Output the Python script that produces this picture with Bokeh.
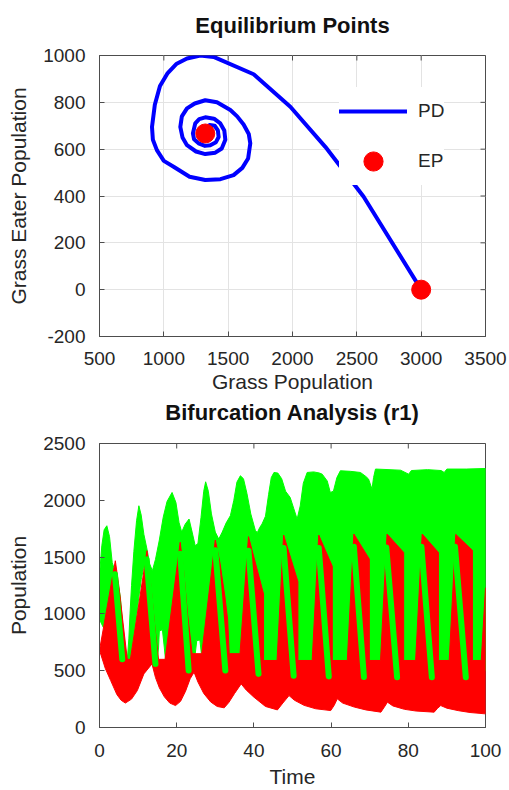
from bokeh.plotting import figure
from bokeh.models import Range1d, Legend, LegendItem, FixedTicker, LinearAxis
from bokeh.layouts import column
from bokeh.embed import file_html
from bokeh.resources import INLINE

# ---------------- data: phase diagram (top) ----------------
PD_GRASS = [3000, 2553, 2255, 1983, 1698, 1387, 1283, 1180, 1100, 1030, 970, 930, 908, 915,
            946, 1000, 1076, 1200, 1322, 1440, 1542, 1610, 1655, 1672, 1660, 1620, 1570, 1517,
            1413, 1322, 1240, 1180, 1140, 1128, 1145, 1180, 1250, 1322, 1400, 1450, 1478,
            1470, 1439, 1390, 1322, 1275, 1244, 1226, 1235, 1270, 1320, 1361, 1405, 1426,
            1420, 1395, 1355, 1322]
PD_EATER = [0, 397, 610, 781, 920, 994, 1000, 987, 965, 925, 870, 790, 695, 640,
            596, 550, 525, 482, 468, 472, 489, 520, 560, 625, 665, 705, 740, 767,
            800, 809, 795, 774, 740, 695, 650, 617, 590, 579, 585, 603, 640,
            680, 710, 730, 736, 728, 710, 667, 642, 625, 614, 617, 630, 652,
            680, 700, 703, 690]
EP_GRASS = [1322, 3000]
EP_EATER = [667, 0]
TOP_X_TICKS = [500, 1000, 1500, 2000, 2500, 3000, 3500]
TOP_Y_TICKS = [-200, 0, 200, 400, 600, 800, 1000]
TOP_Y_LABELS = {-200: "-200"}

# ---------------- data: bifurcation analysis (bottom) ----------------
# outline of the grass (green) band: upper edge and lower edge, (time, population)
GRASS_TOP = [(0, 1340), (0.6, 1600), (1.2, 1740), (1.9, 1776), (2.6, 1680), (3.3, 1450),
             (4.5, 1330), (5.4, 1150), (6.0, 900), (6.6, 700), (7.0, 640), (7.3, 640),
             (7.6, 780), (7.9, 1000), (8.3, 1250), (8.9, 1550), (9.6, 1820), (10.2, 1952),
             (10.8, 1870), (11.5, 1700), (12.3, 1570), (13.0, 1440), (13.7, 1380), (14.5, 1480),
             (15.5, 1650), (16.5, 1850), (17.5, 1990), (18.8, 2069), (19.8, 1980), (20.6, 1805),
             (21.3, 1720), (22.2, 1790), (23.2, 1835), (24.0, 1720), (24.8, 1600), (25.5, 1620),
             (26.3, 1850), (27.0, 2080), (27.5, 2163), (28.2, 2080), (29.0, 1880), (30.0, 1720),
             (30.9, 1659), (31.8, 1720), (32.8, 1800), (33.9, 1864), (34.8, 2000), (35.6, 2160),
             (36.5, 2216), (37.3, 2190), (38.2, 2060), (39.2, 1880), (40.4, 1732), (40.9, 1717),
             (41.5, 1760), (42.1, 1791), (43.0, 1860), (43.8, 2050), (44.5, 2200), (45.2, 2245),
             (46.2, 2240), (47.2, 2190), (48.2, 2080), (49.4, 2025), (50.3, 1930), (51.2, 1835),
             (52.0, 1950), (52.8, 2150), (53.8, 2245), (55.5, 2250), (57.0, 2240), (57.7, 2230),
             (59.0, 2170), (59.8, 2069), (60.6, 2080), (61.5, 2200), (62.4, 2260), (65.0, 2255),
             (67.6, 2245), (69.0, 2210), (69.7, 2187), (70.6, 2099), (71.0, 2200), (71.5, 2275),
             (75.0, 2270), (78.0, 2265), (80.1, 2230), (80.8, 2262), (85.0, 2270), (88.5, 2262),
             (89.3, 2245), (90.0, 2275), (95.0, 2275), (100.0, 2280)]
GRASS_BOTTOM = [(0, 950), (1.0, 880), (2.0, 880), (3.0, 900), (4.0, 800), (5.0, 600),
                (6.0, 560), (7.5, 560), (8.0, 600), (8.8, 780), (9.5, 950), (10.2, 1150),
                (10.8, 1300), (11.4, 1400), (12.0, 1450), (12.5, 1300), (12.9, 900), (13.3, 560),
                (14.8, 560), (15.3, 700), (15.5, 850), (16.3, 860), (16.8, 700), (17.2, 560),
                (24.3, 560), (24.8, 650), (25.2, 765), (26.0, 770), (26.4, 650), (26.8, 560),
                (27.5, 500), (100.0, 500)]
# outline of the grass-eater (red) band
EATER_TOP = [(0, 680), (4.1, 1468), (5.0, 1250), (6.0, 950), (7.2, 600), (8.0, 600),
             (12.3, 1556), (13.3, 1250), (14.3, 900), (15.3, 600), (17.0, 600), (20.9, 1630),
             (21.8, 1380), (22.8, 1000), (24.0, 650), (26.5, 650), (30.0, 1650), (31.2, 1450),
             (32.5, 1150), (33.2, 950), (33.6, 650), (36.4, 650), (38.6, 1680), (42.5, 1175),
             (42.5, 590), (46.0, 590), (47.7, 1694), (51.4, 1285), (51.4, 590), (55.1, 590),
             (56.8, 1694), (60.3, 1420), (60.3, 590), (64.2, 590), (65.9, 1703), (69.9, 1483),
             (69.9, 590), (72.8, 590), (74.5, 1703), (78.8, 1541), (78.8, 590), (81.9, 590),
             (83.6, 1703), (87.8, 1541), (87.8, 590), (90.6, 590), (92.3, 1700), (96.6, 1560),
             (96.6, 590), (98.9, 590), (100.0, 1230)]
EATER_BOTTOM = [(0, 680), (1.5, 520), (2.9, 413), (4.5, 290), (5.6, 240), (6.7, 215),
                (8.3, 250), (9.8, 325), (11.5, 472), (13.6, 560), (14.5, 440), (15.5, 350),
                (16.8, 270), (18.2, 215), (19.7, 193), (21.0, 230), (22.3, 320), (23.5, 430),
                (24.5, 487), (25.5, 400), (27.0, 300), (28.8, 225), (30.5, 185), (32.3, 173),
                (33.5, 220), (35.0, 300), (36.7, 384), (38.0, 330), (40.0, 267), (43.0, 185),
                (46.1, 155), (47.5, 215), (49.1, 281), (50.5, 240), (53.0, 195), (56.0, 165),
                (59.9, 149), (60.8, 195), (61.6, 252), (63.0, 215), (66.0, 180), (69.0, 155),
                (72.9, 135), (73.8, 180), (74.6, 223), (76.0, 190), (79.0, 160), (82.0, 145),
                (86.7, 135), (87.6, 170), (88.4, 193), (90.0, 170), (93.0, 148), (96.0, 132),
                (100.0, 120)]
# descending grass streaks visible on top of the grass-eater peaks
STREAK_T0 = [4.0, 12.2, 20.9, 30.0, 38.6, 47.7, 56.8, 65.9, 74.3, 83.4, 92.1]
STREAK_P0 = [1350, 1480, 1530, 1560, 1556, 1580, 1580, 1590, 1585, 1590, 1590]
STREAK_T1 = [5.9, 14.5, 23.1, 32.6, 41.2, 50.3, 59.4, 68.5, 77.1, 86.1, 94.9]
STREAK_P1 = [600, 560, 501, 501, 472, 455, 450, 445, 442, 442, 442]
BOT_X_TICKS = [0, 20, 40, 60, 80, 100]
BOT_Y_TICKS = [0, 500, 1000, 1500, 2000, 2500]

# ---------------- styling ----------------
FONT = "Liberation Sans"
TXT = "#262626"
AXC = "#4d4d4d"
W = 509
BL, BR = 99, 24
FW = W - BL - BR
TICK = 5


def make_fig(title, xr, yr, xt, yt, xlabel, ylabel, height, top_border, fh, bottom_border,
             title_gap, xlab_gap, grid):
    p = figure(width=W, height=height, output_backend="svg", toolbar_location=None,
               x_range=Range1d(*xr), y_range=Range1d(*yr),
               min_border_left=BL, min_border_right=BR, min_border_top=top_border,
               min_border_bottom=bottom_border)
    p.outline_line_color = AXC
    p.background_fill_color = "white"
    p.border_fill_color = "white"
    for ax, ticks in ((p.xaxis[0], xt), (p.yaxis[0], yt)):
        ax.ticker = FixedTicker(ticks=ticks)
        ax.major_tick_in = TICK
        ax.major_tick_out = 0
        ax.minor_tick_line_color = None
        ax.axis_line_color = AXC
        ax.major_tick_line_color = AXC
        ax.major_label_text_font = FONT
        ax.major_label_text_font_size = "19px"
        ax.major_label_text_color = TXT
        ax.axis_label_text_font = FONT
        ax.axis_label_text_font_size = "21px"
        ax.axis_label_text_font_style = "normal"
        ax.axis_label_text_color = TXT
        ax.axis_label_text_line_height = 1.0
    p.xaxis[0].axis_label = xlabel
    p.yaxis[0].axis_label = ylabel
    p.xaxis[0].major_label_standoff = xlab_gap[0]
    p.xaxis[0].axis_label_standoff = xlab_gap[1]
    p.yaxis[0].major_label_standoff = 14
    p.yaxis[0].axis_label_standoff = 10
    # chart title, carried by a label-only axis above the frame
    head = LinearAxis(ticker=FixedTicker(ticks=[]), axis_label=title,
                      axis_line_color=None, major_tick_line_color=None,
                      minor_tick_line_color=None, major_tick_in=0, major_tick_out=0,
                      major_label_standoff=0, axis_label_standoff=title_gap,
                      axis_label_text_font=FONT, axis_label_text_font_size="22px",
                      axis_label_text_font_style="bold", axis_label_text_color="#111111",
                      axis_label_text_line_height=1.0)
    p.add_layout(head, "above")
    # inward ticks on the top and right sides of the box
    dy = TICK * (yr[1] - yr[0]) / fh
    dx = TICK * (xr[1] - xr[0]) / FW
    p.segment(xt, [yr[1]] * len(xt), xt, [yr[1] - dy] * len(xt), line_color=AXC, line_width=1)
    p.segment([xr[1]] * len(yt), yt, [xr[1] - dx] * len(yt), yt, line_color=AXC, line_width=1)
    if grid:
        for g in (p.xgrid[0], p.ygrid[0]):
            g.grid_line_color = "#e3e3e3"
            g.grid_line_width = 1
    else:
        p.xgrid.visible = False
        p.ygrid.visible = False
    return p


# ---------------- top chart ----------------
p1 = make_fig("Equilibrium Points", (500, 3500), (-200, 1000), TOP_X_TICKS, TOP_Y_TICKS,
              "Grass Population", "Grass Eater Population", 396, 55, 281, 60, 18, (15, 2), True)
p1.yaxis[0].major_label_overrides = TOP_Y_LABELS
pd_r = p1.line(PD_GRASS, PD_EATER, line_color="#0000ff", line_width=4, line_join="round",
               line_cap="round")
ep_r = p1.scatter(EP_GRASS, EP_EATER, marker="circle", size=19, fill_color="#ff0000",
                  line_color="#ff0000")
legend = Legend(items=[LegendItem(label="PD", renderers=[pd_r]),
                       LegendItem(label="EP", renderers=[ep_r])],
                location=(240, 151), glyph_width=68, glyph_height=48, spacing=2, padding=12,
                label_standoff=11, label_text_font=FONT, label_text_font_size="19px",
                label_text_color=TXT, border_line_color=None, background_fill_color="white",
                background_fill_alpha=1.0, margin=0)
p1.add_layout(legend)

# ---------------- bottom chart ----------------
p2 = make_fig("Bifurcation Analysis (r1)", (0, 100), (0, 2500), BOT_X_TICKS, BOT_Y_TICKS,
              "Time", "Population", 394, 47, 284, 63, 19, (16, 5), False)
g_x = [t for t, _ in GRASS_TOP] + [t for t, _ in reversed(GRASS_BOTTOM)]
g_y = [v for _, v in GRASS_TOP] + [v for _, v in reversed(GRASS_BOTTOM)]
r_x = [t for t, _ in EATER_TOP] + [t for t, _ in reversed(EATER_BOTTOM)]
r_y = [v for _, v in EATER_TOP] + [v for _, v in reversed(EATER_BOTTOM)]
p2.patch(g_x, g_y, fill_color="#00ff00", line_color="#00ff00", line_width=1)
p2.patch(r_x, r_y, fill_color="#ff0000", line_color="#ff0000", line_width=1)
p2.segment(STREAK_T0, STREAK_P0, STREAK_T1, STREAK_P1, line_color="#00ff00", line_width=6,
           line_cap="round")

layout = column(p1, p2, spacing=0)
open("out.html", "w").write(file_html(layout, INLINE))
